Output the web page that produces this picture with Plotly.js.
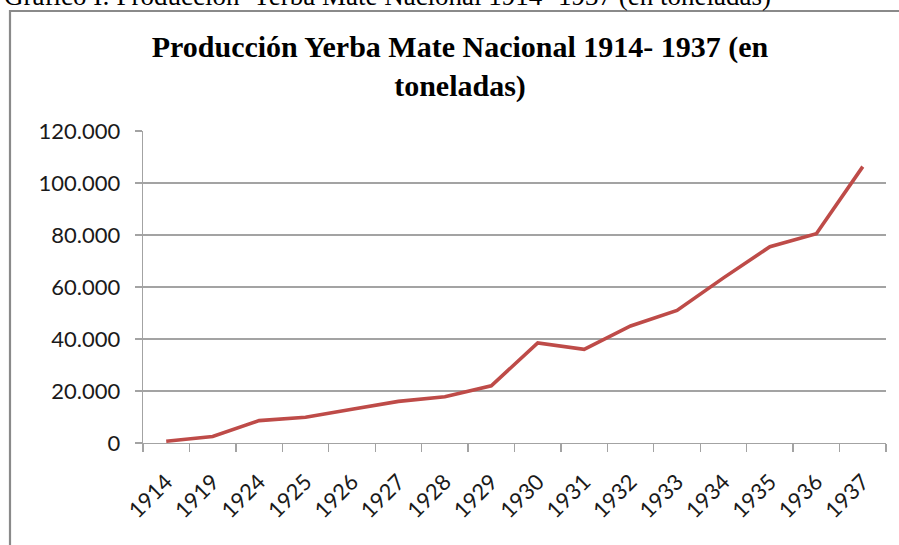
<!DOCTYPE html>
<html>
<head>
<meta charset="utf-8">
<script src="https://cdn.plot.ly/plotly-3.0.1.min.js"></script>
<style>
  html, body { margin: 0; padding: 0; background: #ffffff; }
  #chart { width: 899px; height: 545px; }
</style>
</head>
<body>
<div id="chart"></div>
<script>
// ---- Data ----
var years = ['1914', '1919', '1924', '1925', '1926', '1927', '1928', '1929',
             '1930', '1931', '1932', '1933', '1934', '1935', '1936', '1937'];
var production = [700, 2500, 8600, 9900, 13000, 16000, 17800, 22000,
                  38500, 36000, 45000, 51000, 63500, 75500, 80500, 106300];
var yTicks = [0, 20000, 40000, 60000, 80000, 100000, 120000];

var chartTitle = 'Producción Yerba Mate Nacional 1914- 1937 (en<br>toneladas)';
var captionText = 'Gráfico I: Producción  Yerba Mate Nacional 1914- 1937 (en toneladas)';

// ---- Layout geometry ----
var W = 899, H = 545;
var M = { l: 143, r: 13, t: 131, b: 102 };
var plotW = W - M.l - M.r, plotH = H - M.t - M.b;
function px2x(px) { return (px - M.l) / plotW; }
function px2y(py) { return (H - M.b - py) / plotH; }

var gridGray = '#a3a3a3';
var tickFont = { family: 'Lato, "Open Sans", sans-serif', size: 22, color: '#1a1a1a' };

var trace = {
  type: 'scatter',
  mode: 'lines',
  x: years,
  y: production,
  line: { color: '#be4b48', width: 3.6 },
  hoverinfo: 'x+y'
};

var layout = {
  width: W, height: H,
  margin: M,
  paper_bgcolor: '#ffffff',
  plot_bgcolor: '#ffffff',
  separators: ',.',
  showlegend: false,
  title: {
    text: chartTitle,
    font: { family: '"Liberation Serif", "Times New Roman", serif', size: 30, color: '#000000', weight: 'bold' },
    xref: 'container', yref: 'container',
    x: 460 / W, xanchor: 'center',
    y: 1 - 57 / H, yanchor: 'top'
  },
  xaxis: {
    type: 'category',
    range: [-0.5, years.length - 0.5],
    showline: true, linecolor: gridGray, linewidth: 1.3,
    ticks: 'outside', ticklen: 8, tickcolor: gridGray, tickwidth: 1.3,
    tickson: 'boundaries',
    showgrid: false, zeroline: false,
    tickangle: -45,
    tickfont: tickFont,
    ticklabelstandoff: 16,
    fixedrange: true
  },
  yaxis: {
    range: [0, 120000],
    tickmode: 'array', tickvals: yTicks,
    tickformat: ',d',
    showline: true, linecolor: gridGray, linewidth: 1.3,
    ticks: 'outside', ticklen: 7, tickcolor: gridGray, tickwidth: 1.3,
    showgrid: true, gridcolor: gridGray, gridwidth: 1.3,
    zeroline: false,
    tickfont: tickFont,
    ticklabelstandoff: 10,
    fixedrange: true
  },
  shapes: [{
    type: 'rect', xref: 'paper', yref: 'paper',
    x0: px2x(10), x1: px2x(906), y0: px2y(11), y1: px2y(570),
    line: { color: '#8a8a8a', width: 2.2 },
    fillcolor: 'rgba(0,0,0,0)',
    layer: 'below'
  }],
  annotations: [{
    text: captionText,
    xref: 'paper', yref: 'paper',
    x: px2x(2), xanchor: 'left',
    y: px2y(13), yanchor: 'bottom',
    showarrow: false,
    font: { family: '"Liberation Serif", "Times New Roman", serif', size: 27, color: '#000000' }
  }]
};

Plotly.newPlot('chart', [trace], layout, { displayModeBar: false, staticPlot: true });
</script>
</body>
</html>
